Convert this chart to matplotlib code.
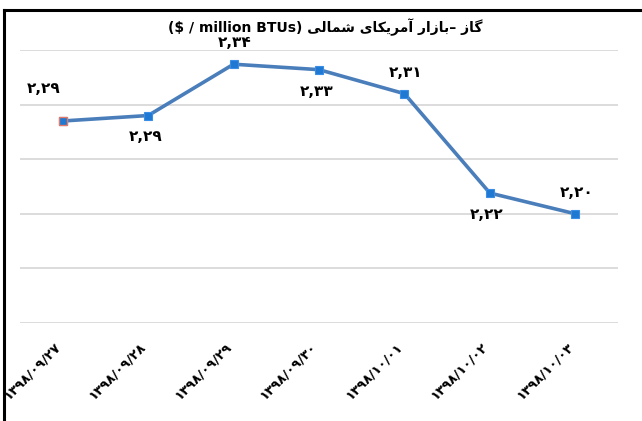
import matplotlib
matplotlib.use("Agg")
import matplotlib.pyplot as plt
from matplotlib.lines import Line2D

# data
dates = ["۱۳۹۸/۰۹/۲۷", "۱۳۹۸/۰۹/۲۸", "۱۳۹۸/۰۹/۲۹", "۱۳۹۸/۰۹/۳۰",
         "۱۳۹۸/۱۰/۰۱", "۱۳۹۸/۱۰/۰۲", "۱۳۹۸/۱۰/۰۳"]
prices = [2.285, 2.290, 2.337, 2.332, 2.310, 2.219, 2.200]
price_labels = ["۲,۲۹", "۲,۲۹", "۲,۳۴", "۲,۳۳", "۲,۳۱", "۲,۲۲", "۲,۲۰"]
label_above = [True, False, True, False, True, False, True]
title_fa = "گاز –بازار آمریکای شمالی"
title_en = "($ / million BTUs)"

# minimal persian shaping (matplotlib has no text shaping)
FORMS = {
    "ا": ("\uFE8D", "\uFE8E", None, None),
    "آ": ("\uFE81", "\uFE82", None, None),
    "ز": ("\uFEAF", "\uFEB0", None, None),
    "ر": ("\uFEAD", "\uFEAE", None, None),
    "ب": ("\uFE8F", "\uFE90", "\uFE91", "\uFE92"),
    "م": ("\uFEE1", "\uFEE2", "\uFEE3", "\uFEE4"),
    "ی": ("\uFBFC", "\uFBFD", "\uFBFE", "\uFBFF"),
    "ک": ("\uFB8E", "\uFB8F", "\uFB90", "\uFB91"),
    "گ": ("\uFB92", "\uFB93", "\uFB94", "\uFB95"),
    "ش": ("\uFEB5", "\uFEB6", "\uFEB7", "\uFEB8"),
    "ل": ("\uFEDD", "\uFEDE", "\uFEDF", "\uFEE0"),
}


def fa(text):
    out = []
    for i, ch in enumerate(text):
        if ch not in FORMS:
            out.append(ch)
            continue
        iso, fin, ini, med = FORMS[ch]
        prev = text[i - 1] if i > 0 else ""
        nxt = text[i + 1] if i + 1 < len(text) else ""
        pj = prev in FORMS and FORMS[prev][2] is not None
        nj = nxt in FORMS and ini is not None
        if pj and nj:
            out.append(med)
        elif pj:
            out.append(fin)
        elif nj:
            out.append(ini)
        else:
            out.append(iso)
    return "".join(reversed(out))


plt.rcParams["font.family"] = ["DejaVu Sans"]

fig = plt.figure(figsize=(6.42, 4.21), dpi=100)
ax = fig.add_axes([0.0312, 0.2328, 0.9314, 0.6484])

x = list(range(len(prices)))
ax.plot(x, prices, color="#4a7ebb", lw=2.6, marker="s", ms=6,
        mfc="#1f78d1", mec="#3a8ee6", mew=0.8, zorder=3)
ax.plot(x[:1], prices[:1], ls="none", marker="s", ms=6,
        mfc="#1f78d1", mec="#e07a6a", mew=1.0, zorder=4)

for xi, yi, lab, up in zip(x, prices, price_labels, label_above):
    if up:
        off = (-14, 18) if xi == 0 else (1, 10)
        va = "bottom"
    else:
        off = (-2, -10)
        va = "top"
    ax.annotate(lab, (xi, yi), xytext=off, textcoords="offset points",
                ha="center", va=va, fontsize=11, fontweight="bold")

ax.set_xlim(-0.5, len(prices) - 0.5)
ax.set_ylim(2.10, 2.35)
ax.set_yticks([2.10, 2.15, 2.20, 2.25, 2.30, 2.35])
ax.yaxis.grid(True, color="#dcdcdc", lw=1.4)
ax.set_axisbelow(True)
ax.tick_params(left=False, labelleft=False, bottom=False)
for s in ax.spines.values():
    s.set_visible(False)
ax.set_xticks(x)
ax.set_xticklabels(dates, rotation=45, ha="right", va="top",
                   fontsize=9.5, fontweight="bold")
ax.tick_params(axis="x", pad=9)

fig.text(0.506, 0.935, title_en + " " + fa(title_fa), ha="center", va="center",
         fontsize=10, fontweight="bold")

# cropped chart border (top and left only)
fig.add_artist(Line2D([0.006, 1.0], [0.976, 0.976], color="black", lw=2.2))
fig.add_artist(Line2D([0.007, 0.007], [0.0, 0.976], color="black", lw=2.2))

fig.savefig("out.png", dpi=100)
